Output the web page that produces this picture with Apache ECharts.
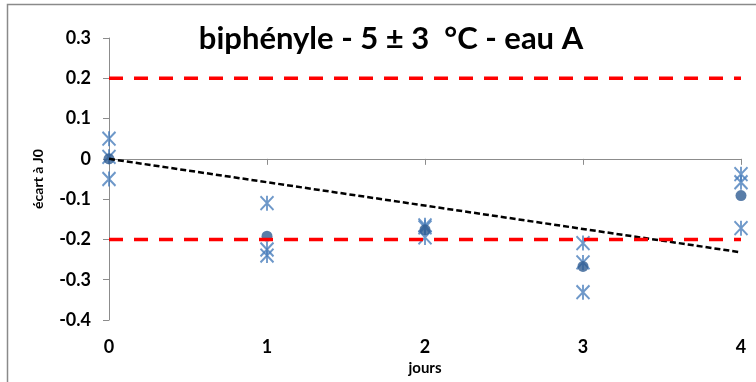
<!DOCTYPE html>
<html>
<head>
<meta charset="utf-8">
<script src="https://cdn.jsdelivr.net/npm/echarts@6/dist/echarts.min.js"></script>
<style>
html,body{margin:0;padding:0;background:#fff;}
#chart{width:756px;height:382px;}
</style>
</head>
<body>
<div id="chart"></div>
<script>
const titleText = 'biphényle - 5 ± 3  °C - eau A';
const xAxisTitle = 'jours';
const yAxisTitle = 'écart à J0';
const days = [0, 1, 2, 3, 4];
const rep1 = [0.05, -0.11, -0.165, -0.209, -0.038];
const rep2 = [0.005, -0.225, -0.17, -0.257, -0.058];
const rep3 = [-0.05, -0.24, -0.195, -0.331, -0.172];
const means = [0, -0.192, -0.176, -0.267, -0.091];
const trendX = [0, 4];
const trendY = [0, -0.232];
const limitX = [0, 4];
const limitUpper = 0.2;
const limitLower = -0.2;

const FONT = 'Lato, "DejaVu Sans", sans-serif';
const starPath = 'path://M0,0L12,13M12,0L0,13M6,-0.6L6,13.6';

const starData = [];
days.forEach((d, i) => {
  starData.push([d, rep1[i]]);
  starData.push([d, rep2[i]]);
  starData.push([d, rep3[i]]);
});
const meanData = days.map((d, i) => [d, means[i]]);
const trendData = trendX.map((x, i) => [x, trendY[i]]);
const upperData = limitX.map(x => [x, limitUpper]);
const lowerData = limitX.map(x => [x, limitLower]);

const chart = echarts.init(document.getElementById('chart'), null, {renderer: 'canvas'});
chart.setOption({
  animation: false,
  backgroundColor: '#fff',
  title: {
    text: titleText,
    left: 386,
    textAlign: 'center',
    top: 18,
    textStyle: {fontFamily: FONT, fontWeight: 'bold', fontSize: 31, color: '#000'}
  },
  graphic: [{
    type: 'rect',
    shape: {x: 7.5, y: 4.5, width: 800, height: 400},
    style: {fill: null, stroke: '#8a8a8a', lineWidth: 1.5},
    silent: true
  }],
  grid: {left: 109, right: 15, top: 38, bottom: 62},
  xAxis: [{
    type: 'value', min: 0, max: 4, interval: 1,
    position: 'bottom',
    axisLine: {show: false, onZero: false},
    axisTick: {show: false},
    splitLine: {show: false},
    axisLabel: {fontFamily: FONT, fontWeight: 'bold', fontSize: 18, color: '#000', margin: 18},
    name: xAxisTitle, nameLocation: 'middle', nameGap: 40,
    nameTextStyle: {fontFamily: FONT, fontWeight: 'bold', fontSize: 15, color: '#000'}
  }, {
    type: 'value', min: 0, max: 4, interval: 1,
    position: 'bottom',
    axisLine: {show: true, onZero: true, lineStyle: {color: '#8c8c8c', width: 1}},
    axisTick: {show: true, inside: false, length: 6, lineStyle: {color: '#8c8c8c'}},
    splitLine: {show: false},
    axisLabel: {show: false}
  }],
  yAxis: {
    type: 'value', min: -0.4, max: 0.3, interval: 0.1,
    axisLine: {show: true, lineStyle: {color: '#8c8c8c', width: 1}},
    axisTick: {show: true, length: 6, lineStyle: {color: '#8c8c8c'}},
    splitLine: {show: false},
    axisLabel: {fontFamily: FONT, fontWeight: 'bold', fontSize: 18, color: '#000', margin: 18,
      formatter: v => String(Math.round(v * 10) / 10)},
    name: yAxisTitle, nameLocation: 'middle', nameGap: 64,
    nameTextStyle: {fontFamily: FONT, fontWeight: 'bold', fontSize: 14, color: '#000'}
  },
  series: [{
    type: 'scatter',
    data: starData,
    symbol: starPath,
    symbolSize: [13, 15],
    itemStyle: {color: '#4a7ebb', borderColor: '#4a7ebb', borderWidth: 2}
  }, {
    type: 'scatter',
    data: meanData,
    symbol: 'circle',
    symbolSize: 11,
    itemStyle: {color: '#2f5d92'}
  }, {
    type: 'line',
    data: trendData,
    showSymbol: false,
    lineStyle: {color: '#000', width: 2.5, type: [6, 3]}
  }, {
    type: 'line',
    data: upperData,
    showSymbol: false,
    lineStyle: {color: '#ff0000', width: 3.5, type: [14, 11]}
  }, {
    type: 'line',
    data: lowerData,
    showSymbol: false,
    lineStyle: {color: '#ff0000', width: 3.5, type: [14, 11]}
  }]
});
</script>
</body>
</html>
